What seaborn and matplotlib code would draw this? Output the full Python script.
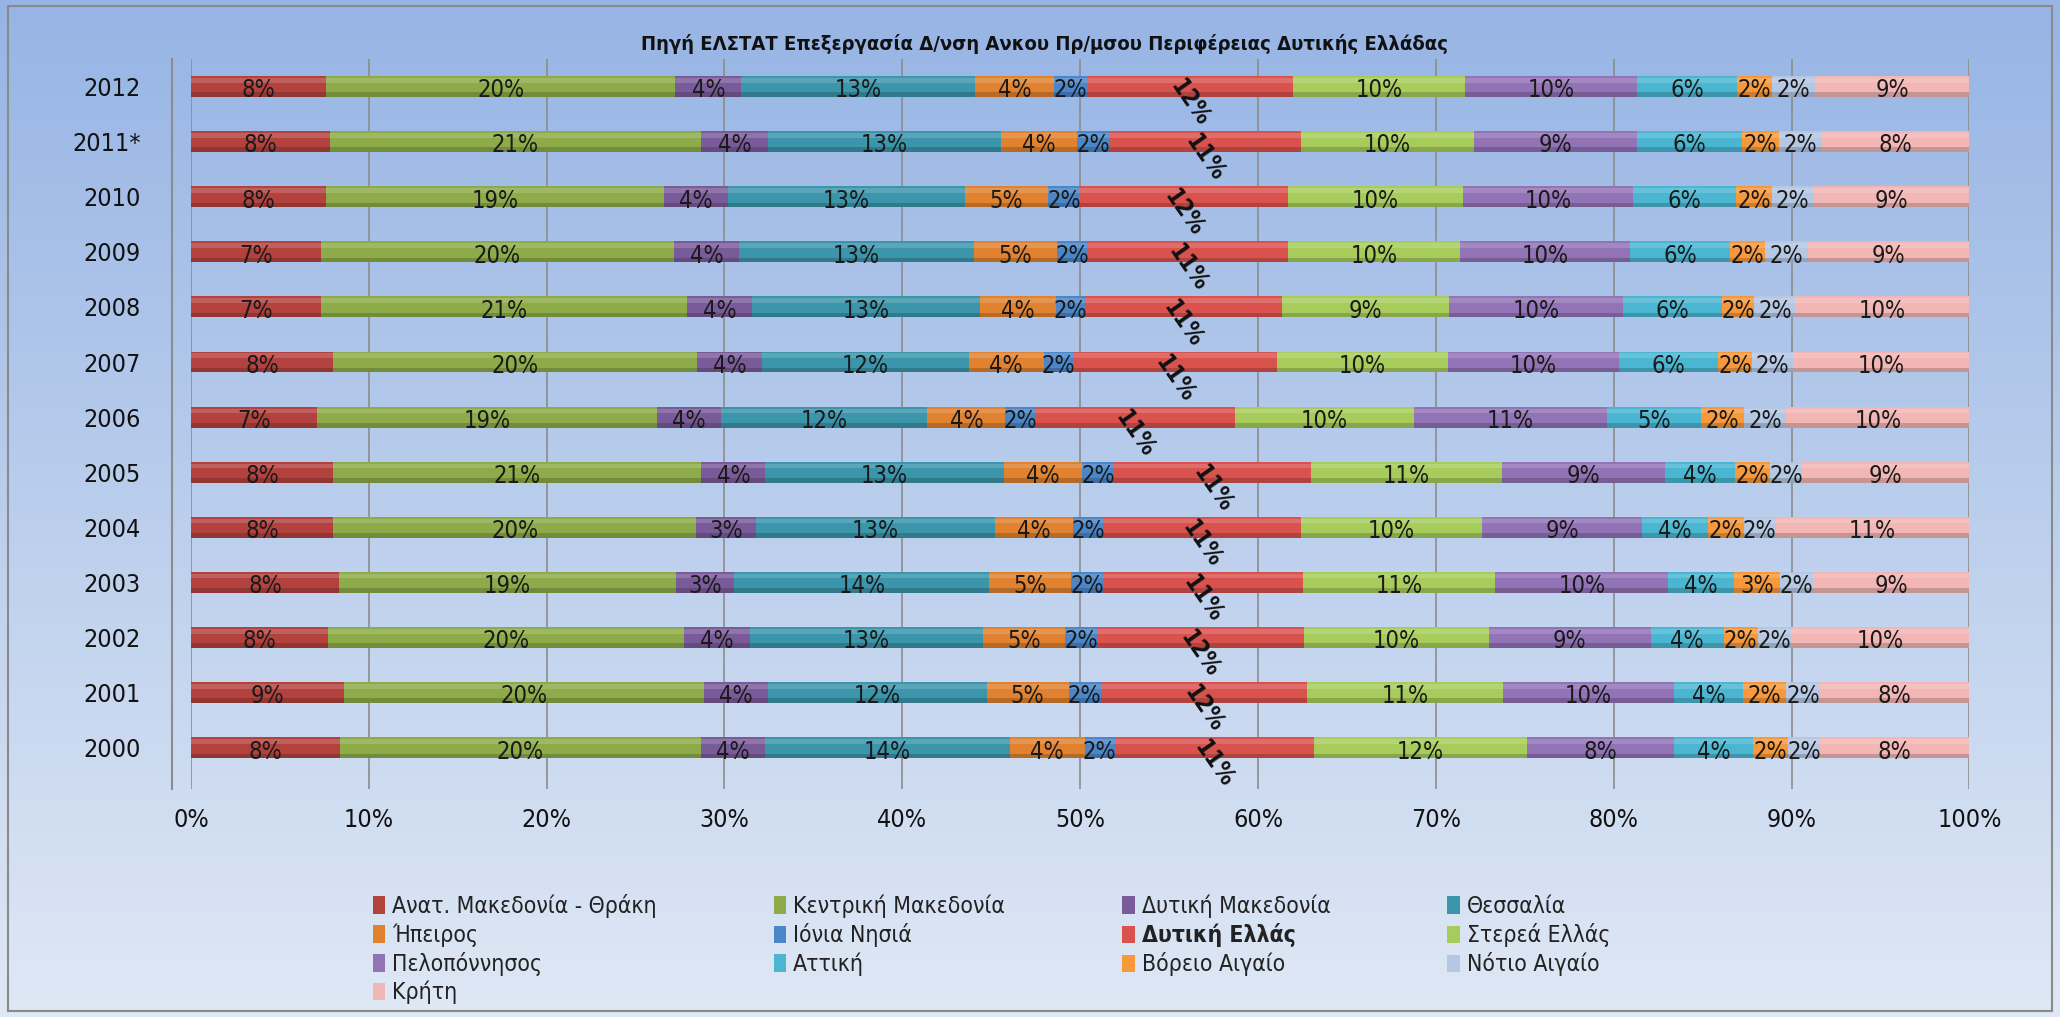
import numpy as np
import pandas as pd
import seaborn as sns
import matplotlib.pyplot as plt
from matplotlib import font_manager
from matplotlib.patches import Rectangle, Patch

# years, top to bottom as in the chart
years = ["2012", "2011*", "2010", "2009", "2008", "2007", "2006",
         "2005", "2004", "2003", "2002", "2001", "2000"]

regions = ["Ανατ. Μακεδονία - Θράκη", "Κεντρική Μακεδονία", "Δυτική Μακεδονία",
           "Θεσσαλία", "Ήπειρος", "Ιόνια Νησιά", "Δυτική Ελλάς", "Στερεά Ελλάς",
           "Πελοπόννησος", "Αττική", "Βόρειο Αιγαίο", "Νότιο Αιγαίο", "Κρήτη"]

# shares (%) per region, same year order as `years` (2012 -> 2000)
anat_makedonia = [7.6, 7.8, 7.6, 7.3, 7.3, 8.0, 7.1, 8.0, 8.0, 8.3, 7.7, 8.6, 8.4]
kentriki_makedonia = [19.7, 20.9, 19.0, 19.9, 20.6, 20.4, 19.1, 20.7, 20.4, 18.9, 20.0, 20.2, 20.3]
dytiki_makedonia = [3.7, 3.8, 3.6, 3.7, 3.7, 3.7, 3.6, 3.6, 3.4, 3.3, 3.7, 3.6, 3.6]
thessalia = [13.2, 13.1, 13.3, 13.2, 12.8, 11.6, 11.6, 13.4, 13.4, 14.3, 13.1, 12.3, 13.8]
ipeiros = [4.4, 4.3, 4.7, 4.7, 4.3, 4.2, 4.4, 4.4, 4.4, 4.6, 4.6, 4.6, 4.2]
ionia = [1.9, 1.8, 1.8, 1.7, 1.6, 1.7, 1.7, 1.8, 1.7, 1.8, 1.8, 1.8, 1.7]
dytiki_ellada = [11.6, 10.8, 11.7, 11.3, 11.1, 11.4, 11.2, 11.1, 11.1, 11.2, 11.6, 11.6, 11.2]
sterea = [9.7, 9.7, 9.8, 9.7, 9.4, 9.6, 10.1, 10.7, 10.2, 10.8, 10.4, 11.0, 12.0]
peloponnisos = [9.7, 9.2, 9.6, 9.6, 9.8, 9.6, 10.8, 9.2, 9.0, 9.7, 9.1, 9.6, 8.3]
attiki = [5.6, 5.9, 5.8, 5.6, 5.6, 5.6, 5.3, 3.9, 3.7, 3.7, 4.1, 3.9, 4.4]
voreio_aigaio = [2.0, 2.1, 2.0, 2.0, 1.8, 1.9, 2.4, 2.0, 2.0, 2.6, 1.9, 2.4, 2.0]
notio_aigaio = [2.4, 2.4, 2.3, 2.4, 2.3, 2.3, 2.4, 1.8, 1.8, 1.8, 1.9, 1.9, 1.8]
kriti = [8.7, 8.3, 8.8, 9.1, 9.8, 9.9, 10.3, 9.4, 10.9, 8.8, 10.0, 8.4, 8.4]

colors = ["#B3423E", "#8DAB48", "#7A5B99", "#3B95AB", "#E0822F", "#4A86C8",
          "#D9524E", "#A7CC5C", "#9173B6", "#4BB6D1", "#F7993A", "#B4C7E3",
          "#F2B6B4"]

title = "Πηγή ΕΛΣΤΑΤ Επεξεργασία Δ/νση Ανκου Πρ/μσου Περιφέρειας Δυτικής Ελλάδας"

df = pd.DataFrame(
    np.column_stack([anat_makedonia, kentriki_makedonia, dytiki_makedonia, thessalia,
                     ipeiros, ionia, dytiki_ellada, sterea, peloponnisos, attiki,
                     voreio_aigaio, notio_aigaio, kriti]),
    columns=regions)
df["year"] = years

# 100% stacked -> normalise each row
raw = df[regions]
share = raw.div(raw.sum(axis=1), axis=0) * 100
cum = share.cumsum(axis=1)

installed = {f.name for f in font_manager.fontManager.ttflist}
narrow = "Liberation Sans Narrow" if "Liberation Sans Narrow" in installed else "DejaVu Sans"

sns.set_style("white")
plt.rcParams["font.family"] = [narrow, "DejaVu Sans"]
plt.rcParams["font.stretch"] = "condensed"

fig = plt.figure(figsize=(20.6, 10.17), dpi=100)

# gradient background for the whole chart area
bg = fig.add_axes([0, 0, 1, 1], zorder=-10)
top_c = np.array([150, 180, 228]) / 255
bot_c = np.array([223, 232, 245]) / 255
t = np.linspace(0, 1, 256)[:, None]
grad = (top_c * (1 - t) + bot_c * t)[:, None, :]
bg.imshow(grad, aspect="auto", extent=[0, 1, 0, 1])
bg.axis("off")
fig.patches.append(Rectangle((0.004, 0.006), 0.992, 0.988, transform=fig.transFigure,
                             fill=False, edgecolor="#8a8a8a", linewidth=1.5))

ax = fig.add_axes([0.0927, 0.2242, 0.8633, 0.7178])
ax.set_facecolor("none")

bar_h = 0.38
# draw cumulative totals from right to left so each segment shows
for i in range(len(regions) - 1, -1, -1):
    sns.barplot(x=cum[regions[i]], y=df["year"], order=years, color=colors[i],
                orient="h", width=bar_h, linewidth=0, saturation=1, ax=ax, zorder=3)

# cylinder-like shading
pos = np.arange(len(years))
totals = cum[regions[-1]].values
ax.barh(pos - bar_h * 0.3, totals, height=bar_h * 0.22, color="white", alpha=0.16,
        linewidth=0, zorder=4)
ax.barh(pos + bar_h * 0.39, totals, height=bar_h * 0.22, color="black", alpha=0.18,
        linewidth=0, zorder=4)

# value labels
for j in range(len(years)):
    left = 0
    for i, reg in enumerate(regions):
        w = share[reg].iloc[j]
        label = f"{raw[reg].iloc[j]:.0f}%"
        if reg == "Δυτική Ελλάς":
            ax.text(left + w / 2, j + 0.3, label, rotation=-55, ha="center", va="center",
                    fontsize=17, fontweight="bold", color="#111111", zorder=6)
        else:
            ax.text(left + w / 2, j + 0.07, label, ha="center", va="center",
                    fontsize=17, color="#1a1a1a", zorder=6)
        left += w

ax.set_xlim(0, 100)
ax.set_ylim(12.75, -0.5)
ax.set_xticks(np.arange(0, 101, 10))
ax.set_xticklabels([f"{v}%" for v in range(0, 101, 10)])
ax.xaxis.grid(True, color="#8c8c8c", linewidth=1.2, zorder=0)
ax.set_axisbelow(True)
ax.set_xlabel("")
ax.set_ylabel("")
ax.tick_params(axis="x", length=0, pad=14, labelsize=18, colors="#111111")
ax.tick_params(axis="y", length=0, pad=22, labelsize=18, colors="#111111")
ax.set_yticks(np.arange(-0.5, 12.6, 1), minor=True)
ax.tick_params(axis="y", which="minor", length=5, color="#8c8c8c", direction="out")
for s in ["top", "right", "bottom"]:
    ax.spines[s].set_visible(False)
ax.spines["left"].set_position(("outward", 14))
ax.spines["left"].set_color("#8c8c8c")
ax.spines["left"].set_linewidth(1.5)

fig.text(0.507, 0.957, title, ha="center", va="center", fontsize=14.5,
         fontweight="bold", color="#111111")

# legend, row-wise order as in the original (matplotlib fills by column)
handles = [Patch(facecolor=c, edgecolor="none") for c in colors]
ncol = 4
order = []
for c in range(ncol):
    order += list(range(c, len(regions), ncol))
leg = fig.legend([handles[k] for k in order], [regions[k] for k in order],
                 loc="upper left", bbox_to_anchor=(0.171, 0.141), ncol=ncol,
                 frameon=False, fontsize=16.5, handlelength=0.55, handleheight=0.8,
                 handletextpad=0.3, columnspacing=5.1, labelspacing=0.22)
for txt in leg.get_texts():
    txt.set_color("#222222")
    if txt.get_text() == "Δυτική Ελλάς":
        txt.set_fontweight("bold")

fig.savefig("out.png", dpi=100)
